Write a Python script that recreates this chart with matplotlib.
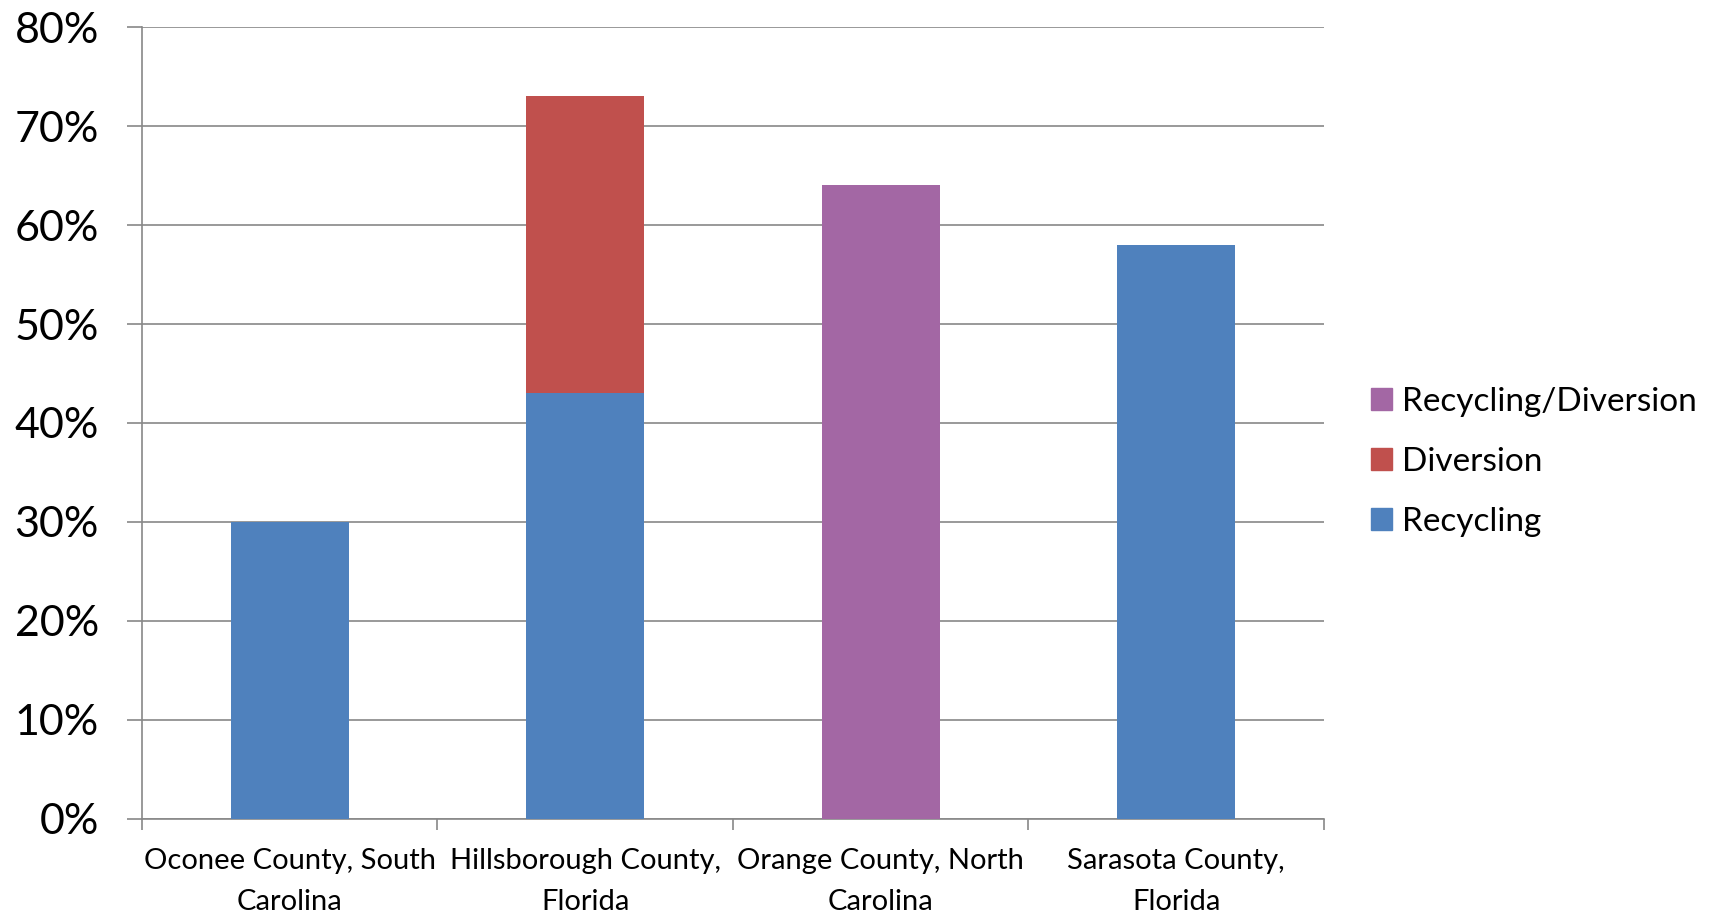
import matplotlib.pyplot as plt
import matplotlib.ticker as mticker
from matplotlib.patches import Patch

plt.rcParams['font.family'] = ['Lato', 'DejaVu Sans']

# Data (percent)
counties = ['Oconee County, South\nCarolina', 'Hillsborough County,\nFlorida',
            'Orange County, North\nCarolina', 'Sarasota County,\nFlorida']
recycling = [30, 43, 0, 58]
diversion = [0, 30, 0, 0]
recycling_diversion = [0, 0, 64, 0]

c_rec = '#4F81BD'
c_div = '#C0504D'
c_rd = '#A367A4'
grid_col = '#888888'

fig = plt.figure(figsize=(17.17, 9.13), dpi=100)
ax = fig.add_axes([0.0827, 0.1030, 0.6884, 0.8674])

x = list(range(len(counties)))
ax.bar(x, recycling, width=0.4, color=c_rec, zorder=3)
ax.bar(x, diversion, width=0.4, bottom=recycling, color=c_div, zorder=3)
ax.bar(x, recycling_diversion, width=0.4, color=c_rd, zorder=3)

ax.set_xlim(-0.5, len(counties) - 0.5)
ax.set_ylim(0, 80)
ax.yaxis.set_major_locator(mticker.MultipleLocator(10))
ax.yaxis.set_major_formatter(mticker.FuncFormatter(lambda v, p: f'{v:.0f}%'))
ax.yaxis.grid(True, color=grid_col, linewidth=1.2, zorder=0)

# category boundaries get the tick marks, labels sit in the middle
ax.set_xticks([i - 0.5 for i in range(len(counties) + 1)])
ax.set_xticklabels([])
ax.set_xticks(x, minor=True)
ax.set_xticklabels(counties, minor=True, fontsize=21, linespacing=1.7)
ax.tick_params(axis='x', which='major', length=8, width=1.2, color=grid_col)
ax.tick_params(axis='x', which='minor', length=0, pad=21)
ax.tick_params(axis='y', length=11, width=1.2, color=grid_col, labelsize=31, pad=20)

for s in ['top', 'right']:
    ax.spines[s].set_visible(False)
for s in ['left', 'bottom']:
    ax.spines[s].set_color(grid_col)
    ax.spines[s].set_linewidth(1.2)

handles = [Patch(color=c_rd, label='Recycling/Diversion'),
           Patch(color=c_div, label='Diversion'),
           Patch(color=c_rec, label='Recycling')]
fig.legend(handles=handles, loc='center left', bbox_to_anchor=(0.781, 0.494),
           frameon=False, fontsize=24, handlelength=0.62, handleheight=0.62,
           handletextpad=0.3, labelspacing=0.9)

fig.savefig('out.png', dpi=100)
